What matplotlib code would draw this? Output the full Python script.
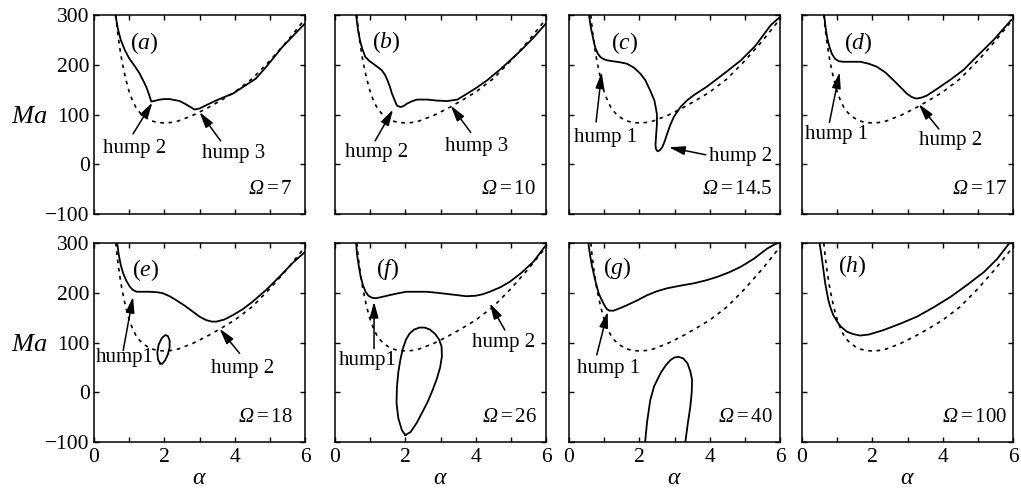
import matplotlib
matplotlib.use("Agg")
import matplotlib.pyplot as plt
from matplotlib.ticker import MultipleLocator

plt.rcParams['font.family'] = 'serif'
plt.rcParams['font.serif'] = ['Liberation Serif']
plt.rcParams['mathtext.fontset'] = 'custom'
plt.rcParams['mathtext.rm'] = 'Liberation Serif'
plt.rcParams['mathtext.it'] = 'Liberation Serif:italic'
plt.rcParams['mathtext.sf'] = 'Liberation Serif:italic'

# --- neutral curve without rotation (dashed, same in every panel) ---
alpha_neutral = [0.62, 0.66, 0.7, 0.75, 0.8, 0.9, 1.0, 1.1, 1.2, 1.3, 1.4, 1.6, 1.8, 2.0,
                 2.2, 2.4, 2.8, 3.2, 3.6, 4.0, 4.5, 5.0, 5.5, 6.0]
ma_neutral = [300, 272, 250, 226, 205, 172, 146, 127, 113, 104, 97, 88, 84, 83,
              84, 87, 98, 112, 128, 145, 172, 208, 248, 292]

# --- rotating cases (solid) ---
omega = ['7', '10', '14.5', '17', '18', '26', '40', '100']

alpha_a = [0.61, 0.68, 0.76, 0.88, 1.0, 1.11, 1.2, 1.3, 1.4, 1.49, 1.57, 1.63, 1.7, 1.87, 2.0,
           2.15, 2.3, 2.44, 2.6, 2.72, 2.86, 3.0, 3.2, 3.47, 3.7, 3.95, 4.23, 4.6, 4.9, 5.36, 6.0]
ma_a = [300, 272, 250, 229, 213, 202, 193, 182, 168, 155, 139, 126, 127, 130, 131,
        131, 129, 127, 121, 116, 110, 112, 119, 128, 135, 142, 155, 172, 196, 236, 283]

alpha_b = [0.6, 0.65, 0.71, 0.78, 0.86, 0.97, 1.09, 1.2, 1.33, 1.42, 1.49, 1.56, 1.62, 1.7, 1.76,
           1.86, 1.95, 2.05, 2.2, 2.33, 2.62, 2.9, 3.19, 3.48, 3.76, 4.05, 4.33, 4.72, 5.0, 5.29,
           5.65, 6.0]
ma_b = [300, 272, 249, 231, 216, 208, 202, 196, 189, 180, 169, 156, 142, 128, 118,
        115, 117, 122, 127, 130, 130, 128, 127, 130, 142, 155, 169, 192, 210, 229,
        255, 283]

alpha_c = [0.57, 0.62, 0.68, 0.74, 0.82, 0.9, 1.0, 1.08, 1.25, 1.45, 1.65, 1.85, 2.03, 2.17,
           2.31, 2.43, 2.5, 2.5, 2.48, 2.46, 2.47, 2.52, 2.58, 2.65, 2.72, 2.79, 2.88, 2.98,
           3.17, 3.35, 3.55, 3.9, 4.22, 4.55, 4.89, 5.3, 5.74, 6.0]
ma_c = [300, 275, 255, 236, 222, 215, 211, 209, 207, 205, 202, 194, 182, 169,
        148, 128, 101, 80, 61, 40, 31, 26, 28, 34, 46, 61, 79, 95,
        115, 128, 139, 155, 172, 190, 209, 238, 280, 296]

alpha_d = [0.63, 0.67, 0.72, 0.78, 0.85, 0.94, 1.05, 1.18, 1.4, 1.66, 1.9, 2.13, 2.38, 2.6,
           2.8, 2.98, 3.12, 3.26, 3.4, 3.55, 3.85, 4.2, 4.6, 4.96, 5.45, 5.95]
ma_d = [300, 275, 253, 236, 222, 212, 207, 206, 206, 206, 202, 196, 184, 169,
        155, 142, 135, 132, 134, 138, 152, 169, 190, 216, 250, 290]

alpha_e = [0.66, 0.7, 0.76, 0.83, 0.92, 1.02, 1.1, 1.21, 1.4, 1.59, 1.8, 1.96, 2.15, 2.34,
           2.58, 2.81, 3.0, 3.19, 3.35, 3.48, 3.7, 3.95, 4.23, 4.51, 4.9, 5.3, 5.65, 6.0]
ma_e = [300, 278, 256, 239, 224, 212, 206, 202, 202, 202, 201, 199, 193, 185,
        174, 162, 152, 145, 142, 142, 146, 155, 167, 182, 206, 234, 260, 282]
loop_alpha_e = [1.88, 1.82, 1.8, 1.84, 1.93, 2.03, 2.1, 2.15, 2.15, 2.1, 2.02, 1.94, 1.88]
loop_ma_e = [58, 66, 80, 96, 109, 115, 113, 104, 90, 76, 64, 57, 58]

alpha_f = [0.6, 0.63, 0.68, 0.73, 0.8, 0.87, 0.95, 1.05, 1.16, 1.3, 1.54, 1.8, 2.02, 2.3,
           2.59, 2.9, 3.26, 3.5, 3.73, 4.0, 4.2, 4.4, 4.7, 4.97, 5.3, 5.65, 5.97]
ma_f = [300, 275, 252, 232, 214, 202, 194, 190, 189, 191, 195, 199, 202, 202,
        202, 200, 197, 195, 193, 194, 197, 202, 211, 222, 240, 263, 293]
loop_alpha_f = [2.0, 1.9, 1.8, 1.75, 1.76, 1.8, 1.86, 1.93, 2.02, 2.12, 2.25, 2.4, 2.55, 2.7,
                2.85, 2.96, 3.03, 3.04, 2.99, 2.9, 2.78, 2.63, 2.47, 2.32, 2.15, 2.0]
loop_ma_f = [-86, -76, -52, -22, 10, 40, 66, 88, 106, 118, 126, 130, 130, 126,
             117, 106, 92, 72, 50, 28, 5, -20, -42, -62, -80, -86]

alpha_g = [0.55, 0.6, 0.65, 0.7, 0.77, 0.84, 0.9, 0.97, 1.03, 1.08, 1.15, 1.27, 1.45, 1.65,
           1.95, 2.22, 2.5, 2.79, 3.15, 3.55, 3.9, 4.22, 4.55, 4.88, 5.25, 5.64, 6.0]
ma_g = [300, 275, 255, 239, 218, 200, 190, 180, 172, 167, 164, 164, 169, 175,
        185, 195, 203, 209, 214, 219, 225, 232, 241, 252, 268, 289, 303]
loop_alpha_g = [2.15, 2.22, 2.31, 2.42, 2.6, 2.75, 2.89, 3.0, 3.12, 3.25, 3.37, 3.45, 3.5,
                3.49, 3.45, 3.38, 3.29]
loop_ma_g = [-110, -60, -16, 12, 38, 54, 65, 70, 71, 68, 58, 42, 25,
             0, -29, -62, -110]

alpha_h = [0.5, 0.56, 0.61, 0.66, 0.75, 0.82, 0.89, 1.0, 1.09, 1.27, 1.45, 1.65, 1.9, 2.32,
           2.8, 3.27, 3.75, 4.23, 4.7, 5.18, 5.55, 5.9]
ma_h = [300, 272, 245, 219, 185, 168, 155, 142, 133, 122, 117, 114, 116, 125,
        138, 152, 171, 192, 216, 242, 268, 300]

# --- layout (pixels) ---
W, H = 1021, 488
col_left = [94, 335, 569, 802]
row_top = [15, 243]
ax_w, ax_h = 211, 199

panels = [
    ('a', alpha_a, ma_a, None, None),
    ('b', alpha_b, ma_b, None, None),
    ('c', alpha_c, ma_c, None, None),
    ('d', alpha_d, ma_d, None, None),
    ('e', alpha_e, ma_e, loop_alpha_e, loop_ma_e),
    ('f', alpha_f, ma_f, loop_alpha_f, loop_ma_f),
    ('g', alpha_g, ma_g, loop_alpha_g, loop_ma_g),
    ('h', alpha_h, ma_h, None, None),
]
label_pos = [(1.44, 243), (1.45, 246), (1.58, 244), (1.59, 243),
             (1.47, 246), (1.50, 248), (1.36, 249), (1.44, 254)]
omega_x = [5.66, 5.72, 5.8, 5.84, 5.66, 5.76, 5.8, 5.84]

# hump annotations: text, text position (baseline), alignment, arrow tail, arrow head
humps = {
    'a': [('hump 2', (1.16, 22), 'center', (1.11, 61), (1.66, 124)),
          ('hump 3', (3.97, 12), 'center', (3.6, 47), (3.0, 105))],
    'b': [('hump 2', (1.19, 15), 'center', (1.14, 47), (1.65, 110)),
          ('hump 3', (4.04, 27), 'center', (3.86, 64), (3.29, 118))],
    'c': [('hump 1', (1.03, 44), 'center', (0.77, 85), (0.93, 185)),
          ('hump 2', (3.97, 7), 'left', (3.89, 19), (2.84, 34))],
    'd': [('hump 1', (0.99, 51), 'center', (0.78, 84), (1.07, 185)),
          ('hump 2', (4.22, 39), 'center', (3.89, 71), (3.32, 121))],
    'e': [('hump1', (0.87, 61), 'center', (0.83, 84), (1.11, 192)),
          ('hump 2', (4.23, 39), 'center', (4.14, 78), (3.57, 128))],
    'f': [('hump1', (0.92, 55), 'center', (1.11, 88), (1.11, 182)),
          ('hump 2', (4.8, 90), 'center', (4.83, 125), (4.4, 179))],
    'g': [('hump 1', (1.12, 38), 'center', (0.79, 75), (1.1, 162))],
    'h': [],
}

fig = plt.figure(figsize=(W / 100, H / 100), dpi=100)

for i, (key, xs, ys, lx, ly) in enumerate(panels):
    row, col = divmod(i, 4)
    ax = fig.add_axes([col_left[col] / W, 1 - (row_top[row] + ax_h) / H, ax_w / W, ax_h / H])

    ax.plot(alpha_neutral, ma_neutral, color='black', lw=1.2, ls=(0, (2.2, 2.8)))
    ax.plot(xs, ys, color='black', lw=1.3)
    if lx is not None:
        ax.plot(lx, ly, color='black', lw=1.3)

    ax.set_xlim(0, 6)
    ax.set_ylim(-100, 300)
    ax.xaxis.set_major_locator(MultipleLocator(2))
    ax.xaxis.set_minor_locator(MultipleLocator(1))
    ax.yaxis.set_major_locator(MultipleLocator(100))
    ax.tick_params(which='both', direction='in', top=True, right=True,
                   length=3.8, width=1.0, labelsize=15.5, pad=4)
    ax.tick_params(axis='y', pad=3)
    for sp in ax.spines.values():
        sp.set_linewidth(1.1)
    if row == 0:
        ax.tick_params(labelbottom=False)
    else:
        ax.set_xlabel(r'$\alpha$', fontsize=17, labelpad=1)
    if col > 0:
        ax.tick_params(labelleft=False)

    lxp, lyp = label_pos[i]
    ax.text(lxp, lyp, r'$(%s)$' % key, fontsize=17, ha='center', va='center')
    ax.text(omega_x[i], -60, r'$\mathsf{\Omega}=%s$' % omega[i], fontsize=15,
            ha='right', va='baseline')

    for txt, tpos, ha, tail, head in humps[key]:
        ax.text(tpos[0], tpos[1], txt, fontsize=15, ha=ha, va='baseline')
        ax.annotate('', xy=head, xytext=tail,
                    arrowprops=dict(arrowstyle='-|>,head_length=0.8,head_width=0.22',
                                    color='black', lw=1.1, shrinkA=0, shrinkB=0,
                                    mutation_scale=12))

for top in row_top:
    fig.text(29 / W, 1 - (top + 102) / H, r'$Ma$', fontsize=19, ha='center', va='center')

fig.savefig('out.png', dpi=100)
